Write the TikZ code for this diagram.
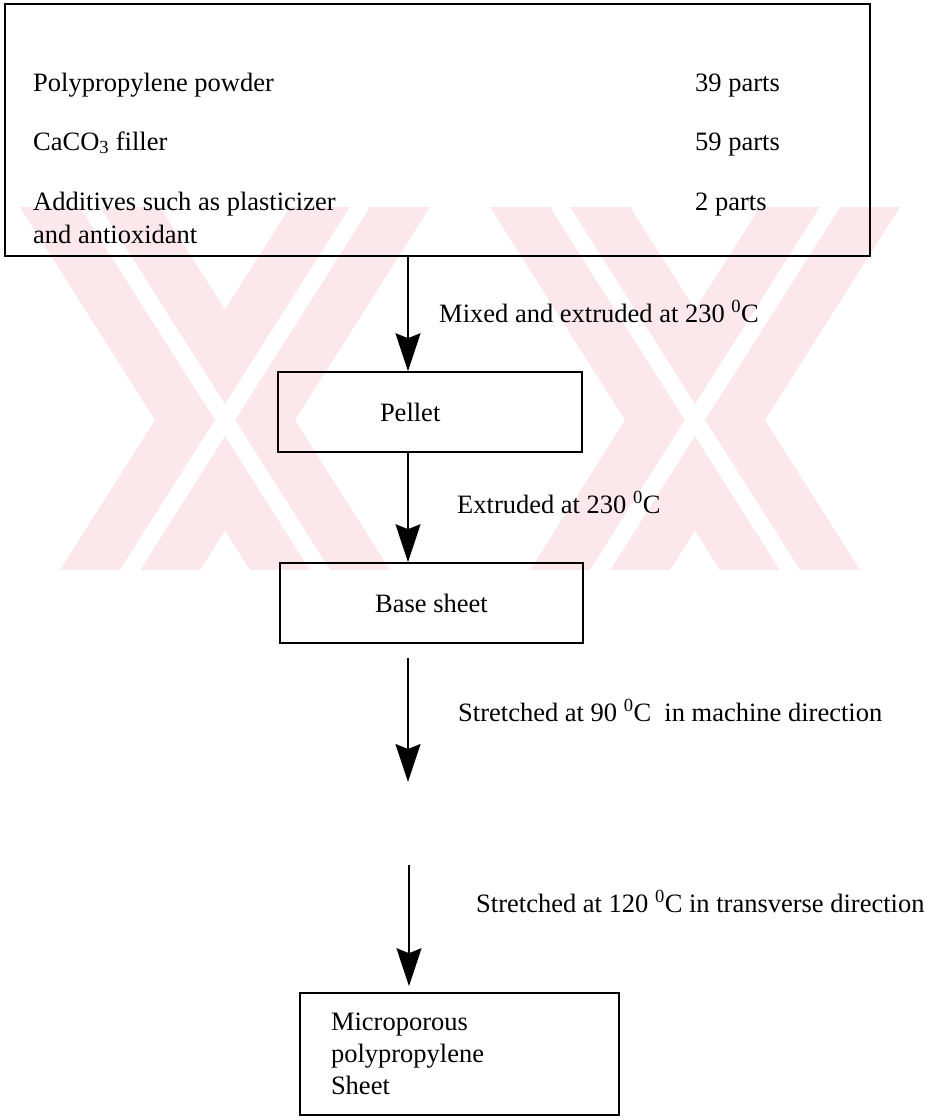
\documentclass[tikz,border=0pt]{standalone}
\usepackage{fontspec}
\setmainfont{Liberation Serif}
\usetikzlibrary{arrows.meta}
\definecolor{stamp}{RGB}{252,232,236}
\newcommand\degC{\textsuperscript{0}C}
\tikzset{
  stagebox/.style={draw, line width=1.6pt, inner sep=0pt},
  flow/.style={line width=1.6pt, -{Stealth[length=38pt,width=25pt,inset=5pt]}},
  note/.style={anchor=base west, inner sep=0pt},
}

\begin{document}
\begin{tikzpicture}[x=1pt,y=-1pt,font=\fontsize{26.5}{32}\selectfont]
  \useasboundingbox (0,0) rectangle (928,1120);
  \fill[white] (0,0) rectangle (928,1120);

  % watermark
  \begin{scope}
    \clip (0,207) rectangle (928,570);
    \foreach \x in {0,470} {
      \fill[stamp] (\x+20,207) -- ++(140,0) -- ++(230,363) -- ++(-140,0) -- cycle;
      \fill[stamp] (\x+60,570) -- ++(140,0) -- ++(230,-363) -- ++(-140,0) -- cycle;
    }
    \foreach \x in {0,470} {
      \fill[white] (\x+80,207) -- ++(20,0) -- ++(230,363) -- ++(-20,0) -- cycle;
      \fill[white] (\x+120,570) -- ++(20,0) -- ++(230,-363) -- ++(-20,0) -- cycle;
    }
  \end{scope}

  \node[stagebox, minimum width=865pt, minimum height=252pt] (mix) at (437.5,130) {};
  \foreach \y/\stuff/\parts in {91/Polypropylene powder/39 parts,
      150/CaCO\textsubscript{3} filler/59 parts,
      210/Additives such as plasticizer/2 parts} {
    \node[note] (item\y) at (33,\y) {\stuff};
    \node[note] (amount\y) at (695,\y) {\parts};
  }
  \node[note] (item243) at (33,243) {and antioxidant};

  \node[stagebox, minimum width=304pt, minimum height=80pt, text width=100pt,
    inner xsep=102pt, align=left] (pellet) at (430,412) {Pellet};
  \node[stagebox, minimum width=303pt, minimum height=80pt] (base) at (431.5,603) {Base sheet};
  \node[stagebox, minimum width=319pt, minimum height=122pt, text width=257pt,
    inner xsep=31pt, align=left] (sheet) at (459.5,1054) {Microporous\\polypropylene\\Sheet};

  \coordinate (axis) at (408,0);
  \coordinate (stretch1) at (408,782);
  \coordinate (stretch2) at (409,865);

  \draw[flow] (mix.south -| axis) -- (pellet.north -| axis);
  \draw[flow] (pellet.south -| axis) -- (base.north -| axis);
  \draw[flow, shorten <=14pt] (base.south -| axis) -- (stretch1);
  \draw[flow, shorten >=6pt] (stretch2) -- (sheet.north -| stretch2);

  \node[note] (mixing) at (439,322) {Mixed and extruded at 230 \degC};
  \node[note] (extruding) at (457,513) {Extruded at 230 \degC};
  \node[note] (machine) at (458,721) {Stretched at 90 \degC\ \ in machine direction};
  \node[note] (transverse) at (476,912) {Stretched at 120 \degC\ in transverse direction};
\end{tikzpicture}
\end{document}
